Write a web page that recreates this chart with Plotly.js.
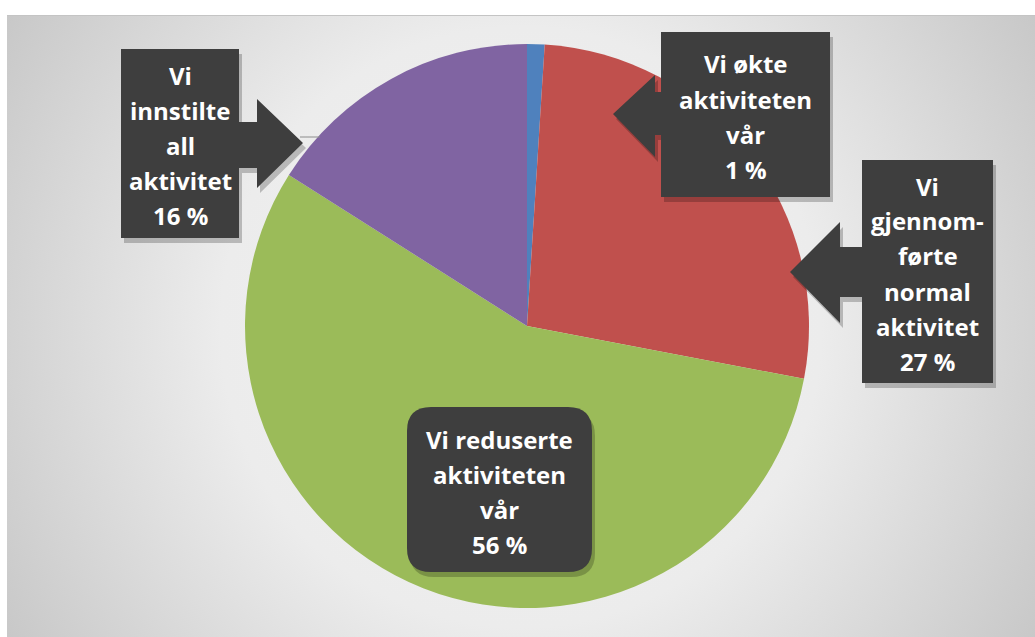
<!DOCTYPE html>
<html>
<head>
<meta charset="utf-8">
<script src="https://cdn.plot.ly/plotly-3.0.1.min.js"></script>
<style>
  body { margin: 0; background: #fff; }
  #wrap { position: relative; width: 1035px; height: 637px; }
  #bg {
    position: absolute; left: 7px; top: 15px; width: 1028px; height: 622px;
    border-top: 1px solid #c4c4c4;
    background: radial-gradient(circle farthest-corner at 50% 50%, #f2f2f2 0%, #ececec 50%, #c8c8c8 100%);
  }
  #chart { position: absolute; left: 0; top: 0; width: 1035px; height: 637px; }
</style>
</head>
<body>
<div id="wrap"><div id="bg"></div><div id="chart"></div></div>
<script>
// data, clockwise from 12 o'clock
var categories = ['Vi økte aktiviteten vår', 'Vi gjennomførte normal aktivitet', 'Vi reduserte aktiviteten vår', 'Vi innstilte all aktivitet'];
var shares = [1, 27, 56, 16];
var sliceColors = ['#4f81bd', '#c0504d', '#9bbb59', '#8064a2'];
// how each label wraps inside its box
var labelLines = [
    ['Vi økte', 'aktiviteten', 'vår'],
    ['Vi', 'gjennom-', 'førte', 'normal', 'aktivitet'],
    ['Vi reduserte', 'aktiviteten', 'vår'],
    ['Vi', 'innstilte', 'all', 'aktivitet']
];

var W = 1035, H = 637;
function px(x) { return x / W; }
function py(y) { return 1 - y / H; }
function pathOf(pts) {
    return 'M' + pts.map(function (p) { return px(p[0]) + ',' + py(p[1]); }).join(' L') + ' Z';
}

// callout boxes (pixel layout): box + arrow pointing at the slice
var boxes = [
    {l: 661, r: 830, t: 32, b: 197, dir: 'left', shaftT: 92, shaftB: 135, shaftX: 655, headT: 75, headB: 157, tipX: 613, tipY: 114},
    {l: 862, r: 993, t: 160, b: 383, dir: 'left', shaftT: 247, shaftB: 297, shaftX: 840, headT: 222, headB: 323, tipX: 790, tipY: 272},
    {l: 407, r: 592, t: 407, b: 572, dir: 'none', rad: 24},
    {l: 121, r: 239, t: 49, b: 238, dir: 'right', shaftT: 122, shaftB: 168, shaftX: 257, headT: 99, headB: 188, tipX: 303, tipY: 143}
];

function calloutPts(c, dx, dy) {
    var pts;
    if (c.dir === 'left') {
        pts = [[c.l, c.t], [c.r, c.t], [c.r, c.b], [c.l, c.b], [c.l, c.shaftB], [c.shaftX, c.shaftB],
               [c.shaftX, c.headB], [c.tipX, c.tipY], [c.shaftX, c.headT], [c.shaftX, c.shaftT], [c.l, c.shaftT]];
    } else {
        pts = [[c.l, c.t], [c.r, c.t], [c.r, c.shaftT], [c.shaftX, c.shaftT], [c.shaftX, c.headT], [c.tipX, c.tipY],
               [c.shaftX, c.headB], [c.shaftX, c.shaftB], [c.r, c.shaftB], [c.r, c.b], [c.l, c.b]];
    }
    return pts.map(function (p) { return [p[0] + dx, p[1] + dy]; });
}

function roundedPath(c, dx, dy) {
    var l = c.l + dx, r = c.r + dx, t = c.t + dy, b = c.b + dy, k = c.rad;
    function P(x, y) { return px(x) + ',' + py(y); }
    return 'M' + P(l + k, t) + ' L' + P(r - k, t) + ' Q' + P(r, t) + ' ' + P(r, t + k) +
        ' L' + P(r, b - k) + ' Q' + P(r, b) + ' ' + P(r - k, b) +
        ' L' + P(l + k, b) + ' Q' + P(l, b) + ' ' + P(l, b - k) +
        ' L' + P(l, t + k) + ' Q' + P(l, t) + ' ' + P(l + k, t) + ' Z';
}

var shapes = [];
var annotations = [];
var lineGap = 35;

for (var i = 0; i < boxes.length; i++) {
    var c = boxes[i];
    var shadowPath = c.dir === 'none' ? roundedPath(c, 3, 5) : pathOf(calloutPts(c, 3, 5));
    var mainPath = c.dir === 'none' ? roundedPath(c, 0, 0) : pathOf(calloutPts(c, 0, 0));
    shapes.push({type: 'path', xref: 'paper', yref: 'paper', path: shadowPath,
                 fillcolor: 'rgba(0,0,0,0.22)', line: {width: 0}});
    shapes.push({type: 'path', xref: 'paper', yref: 'paper', path: mainPath,
                 fillcolor: '#3e3e3e', line: {width: 0}});

    var lines = labelLines[i].concat([shares[i] + ' %']);
    var y0 = (c.t + c.b) / 2 - (lines.length - 1) * lineGap / 2 + 2;
    for (var j = 0; j < lines.length; j++) {
        annotations.push({
            xref: 'paper', yref: 'paper',
            x: px((c.l + c.r) / 2), y: py(y0 + j * lineGap),
            xanchor: 'center', yanchor: 'middle',
            text: '<b>' + lines[j] + '</b>', showarrow: false,
            font: {family: 'Open Sans', size: 24, color: '#ffffff'}
        });
    }
}

// small leader line on the left callout
shapes.push({type: 'line', xref: 'paper', yref: 'paper', x0: px(300), x1: px(320), y0: py(137), y1: py(137),
             line: {color: '#8c8c8c', width: 1}});

var dataPie = [
    {
        type: 'pie',
        labels: categories,
        values: shares,
        sort: false,
        direction: 'clockwise',
        rotation: 0,
        marker: {colors: sliceColors, line: {width: 0}},
        textinfo: 'none',
        hoverinfo: 'none',
        domain: {x: [px(244), px(810)], y: [py(608), py(44)]}
    }
];

var layoutPie = {
    width: W,
    height: H,
    showlegend: false,
    paper_bgcolor: 'rgba(0,0,0,0)',
    plot_bgcolor: 'rgba(0,0,0,0)',
    margin: {l: 0, r: 0, t: 0, b: 0},
    shapes: shapes,
    annotations: annotations
};

Plotly.newPlot('chart', dataPie, layoutPie, {displayModeBar: false, staticPlot: true});
</script>
</body>
</html>
